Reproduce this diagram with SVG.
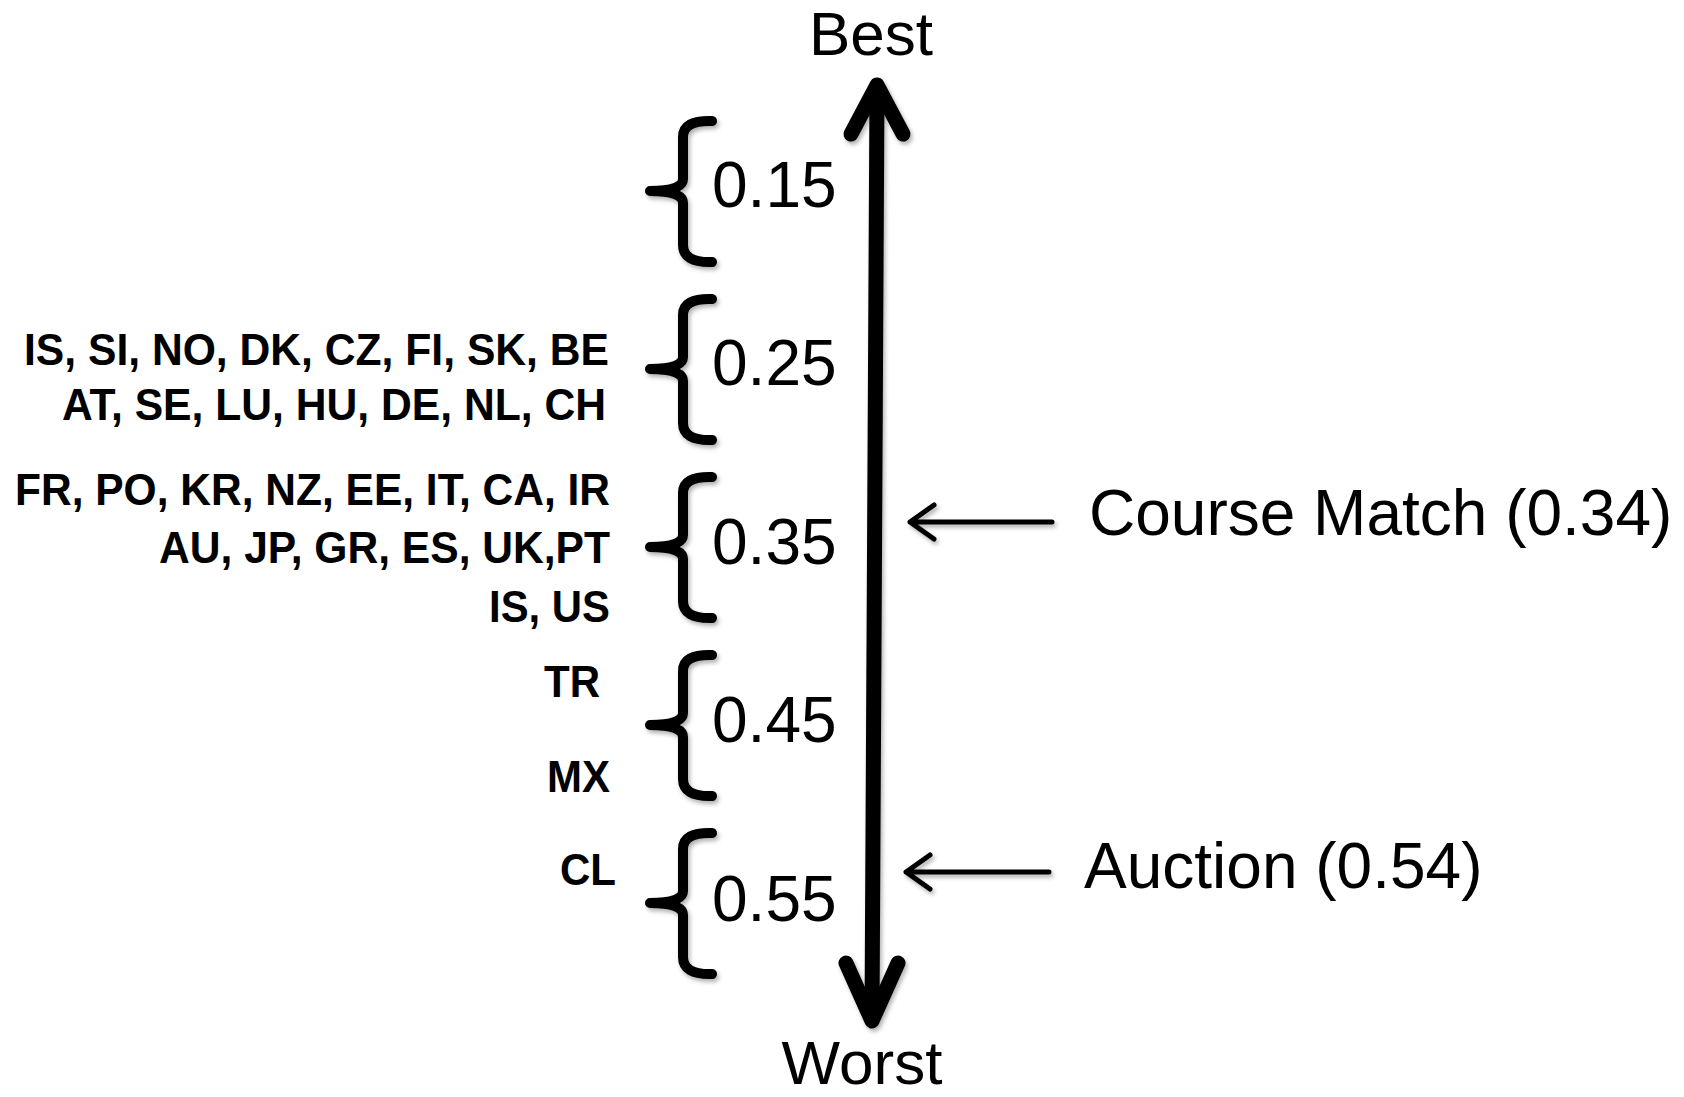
<svg xmlns="http://www.w3.org/2000/svg" width="1684" height="1097" viewBox="0 0 1684 1097">
<style>
  .lbl { font-family: "Liberation Sans", Arial, sans-serif; fill: #000; }
  .big { font-size: 62px; }
  .val { font-size: 64px; }
  .cty { font-size: 44px; font-weight: bold; }
  .brace { fill: none; stroke: #000; stroke-width: 10; stroke-linecap: round; stroke-linejoin: round; }
  .axis { fill: none; stroke: #000; stroke-width: 15; stroke-linecap: round; stroke-linejoin: round; }
  .ptr { fill: none; stroke: #000; stroke-width: 5; stroke-linecap: round; stroke-linejoin: round; }
</style>
<defs>
  <filter id="sh" x="-20%" y="-20%" width="140%" height="140%">
    <feDropShadow dx="2" dy="3" stdDeviation="2" flood-color="#000" flood-opacity="0.3"/>
  </filter>
</defs>
<rect width="1684" height="1097" fill="#fff"/>

<g id="connectors" filter="url(#sh)">
  <path class="axis" d="M877,88 L872,1018"/>
  <path class="axis" d="M851,134 L877,85 L903,134"/>
  <path class="axis" d="M846,963 L872,1021 L898,963"/>
  <path class="ptr" d="M1052,522 L910,522 M934,505 L910,522 L934,539"/>
  <path class="ptr" d="M1049,872 L906,872 M930,855 L906,872 L930,889"/>
</g>

<g id="axis-labels">
  <text class="lbl big" x="871" y="55" text-anchor="middle">Best</text>
  <text class="lbl big" x="862" y="1084" text-anchor="middle">Worst</text>
</g>

<g id="group-015">
  <path class="brace" filter="url(#sh)" d="M712,121 Q683,120 683,137 L683,179 Q683,191 650,191 Q683,191 683,203 L683,245 Q683,263 712,262"/>
  <text class="lbl val" x="712" y="207">0.15</text>
</g>

<g id="group-025">
  <path class="brace" filter="url(#sh)" d="M712,299 Q683,298 683,315 L683,357 Q683,369 650,369 Q683,369 683,381 L683,423 Q683,441 712,440"/>
  <text class="lbl val" x="712" y="385">0.25</text>
  <text class="lbl cty" x="609" y="365" text-anchor="end" textLength="585" lengthAdjust="spacingAndGlyphs">IS, SI, NO, DK, CZ, FI, SK, BE</text>
  <text class="lbl cty" x="606" y="420" text-anchor="end" textLength="544" lengthAdjust="spacingAndGlyphs">AT, SE, LU, HU, DE, NL, CH</text>
</g>

<g id="group-035">
  <path class="brace" filter="url(#sh)" d="M712,477 Q683,476 683,493 L683,535 Q683,547 650,547 Q683,547 683,559 L683,601 Q683,619 712,618"/>
  <text class="lbl val" x="712" y="564">0.35</text>
  <text class="lbl cty" x="610" y="505" text-anchor="end" textLength="595" lengthAdjust="spacingAndGlyphs">FR, PO, KR, NZ, EE, IT, CA, IR</text>
  <text class="lbl cty" x="610" y="563" text-anchor="end" textLength="451" lengthAdjust="spacingAndGlyphs">AU, JP, GR, ES, UK,PT</text>
  <text class="lbl cty" x="610" y="622" text-anchor="end" textLength="121" lengthAdjust="spacingAndGlyphs">IS, US</text>
</g>

<g id="group-045">
  <path class="brace" filter="url(#sh)" d="M712,655 Q683,654 683,671 L683,713 Q683,725 650,725 Q683,725 683,737 L683,779 Q683,797 712,796"/>
  <text class="lbl val" x="712" y="742">0.45</text>
  <text class="lbl cty" x="544" y="697" textLength="56" lengthAdjust="spacingAndGlyphs">TR</text>
  <text class="lbl cty" x="547" y="792" textLength="63" lengthAdjust="spacingAndGlyphs">MX</text>
</g>

<g id="group-055">
  <path class="brace" filter="url(#sh)" d="M712,833 Q683,832 683,849 L683,891 Q683,903 650,903 Q683,903 683,915 L683,957 Q683,975 712,974"/>
  <text class="lbl val" x="712" y="921">0.55</text>
  <text class="lbl cty" x="560" y="885" textLength="56" lengthAdjust="spacingAndGlyphs">CL</text>
</g>

<g id="course-match">
  <text class="lbl big" x="1089" y="535" style="font-size:64px">Course Match (0.34)</text>
</g>

<g id="auction">
  <text class="lbl big" x="1084" y="888" style="font-size:64px">Auction (0.54)</text>
</g>
</svg>
